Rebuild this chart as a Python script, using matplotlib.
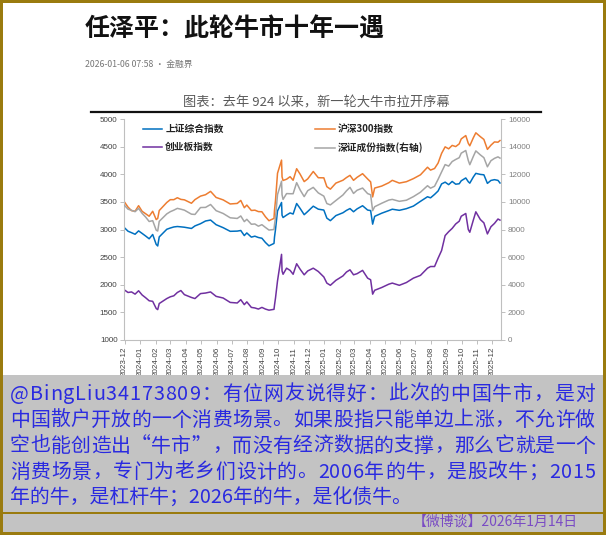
import matplotlib

matplotlib.use("Agg")
import matplotlib.dates as mdates
import matplotlib.pyplot as plt
import pandas as pd
from matplotlib.lines import Line2D
from matplotlib.patches import Rectangle

plt.rcParams["font.family"] = ["Noto Sans CJK SC", "DejaVu Sans"]

# ── Data ──────────────────────────────────────────────────────────────────────
dates = [
    "2023-12-01", "2023-12-08", "2023-12-15", "2023-12-22", "2023-12-29",
    "2024-01-05", "2024-01-12", "2024-01-19", "2024-01-26", "2024-02-02",
    "2024-02-05", "2024-02-08", "2024-02-23", "2024-03-01", "2024-03-08",
    "2024-03-15", "2024-03-22", "2024-03-29", "2024-04-12", "2024-04-19",
    "2024-04-30", "2024-05-10", "2024-05-20", "2024-05-31", "2024-06-14",
    "2024-06-28", "2024-07-12", "2024-07-19", "2024-07-26", "2024-07-31",
    "2024-08-09", "2024-08-16", "2024-08-23", "2024-08-30", "2024-09-06",
    "2024-09-13", "2024-09-23", "2024-09-24", "2024-09-26", "2024-09-30",
    "2024-10-08", "2024-10-09", "2024-10-11", "2024-10-18", "2024-10-25",
    "2024-10-31", "2024-11-07", "2024-11-14", "2024-11-22", "2024-11-29",
    "2024-12-10", "2024-12-20", "2024-12-31", "2025-01-06", "2025-01-13",
    "2025-01-24", "2025-02-07", "2025-02-14", "2025-02-21", "2025-02-28",
    "2025-03-07", "2025-03-18", "2025-03-28", "2025-04-03", "2025-04-07",
    "2025-04-11", "2025-04-25", "2025-05-09", "2025-05-16", "2025-05-30",
    "2025-06-13", "2025-06-27", "2025-07-11", "2025-07-25", "2025-07-31",
    "2025-08-08", "2025-08-15", "2025-08-22", "2025-08-29", "2025-09-05",
    "2025-09-12", "2025-09-19", "2025-09-26", "2025-09-30", "2025-10-09",
    "2025-10-14", "2025-10-17", "2025-10-24", "2025-10-29", "2025-11-07",
    "2025-11-14", "2025-11-21", "2025-11-28", "2025-12-05", "2025-12-12",
    "2025-12-16",
]

sh_comp = [
    3031, 2969, 2942, 2914, 2975, 2929, 2882, 2832, 2910, 2730,
    2702, 2866, 3004, 3027, 3046, 3054, 3048, 3041, 3019, 3065,
    3105, 3154, 3171, 3087, 3033, 2967, 2971, 2982, 2890, 2938,
    2862, 2879, 2855, 2842, 2765, 2704, 2748, 2863, 3000, 3336,
    3489, 3258, 3217, 3261, 3300, 3280, 3470, 3380, 3268, 3326,
    3422, 3368, 3352, 3206, 3160, 3252, 3303, 3346, 3379, 3321,
    3373, 3430, 3352, 3342, 3097, 3238, 3295, 3342, 3367, 3347,
    3377, 3424, 3510, 3593, 3573, 3635, 3697, 3825, 3857, 3812,
    3870, 3820, 3828, 3882, 3933, 3865, 3839, 3950, 4016, 3997,
    3990, 3835, 3888, 3902, 3889, 3842,
]

hs300 = [
    3497, 3405, 3341, 3330, 3431, 3329, 3285, 3240, 3330, 3180,
    3200, 3343, 3489, 3540, 3540, 3575, 3545, 3537, 3475, 3541,
    3604, 3630, 3690, 3580, 3536, 3462, 3472, 3526, 3394, 3442,
    3344, 3350, 3324, 3321, 3231, 3159, 3201, 3347, 3528, 4018,
    4256, 3955, 3887, 3910, 3956, 3891, 4100, 4000, 3867, 3916,
    4050, 3937, 3935, 3775, 3730, 3840, 3892, 3940, 3980, 3890,
    3944, 4010, 3915, 3862, 3590, 3750, 3786, 3846, 3890, 3840,
    3865, 3921, 3990, 4127, 4075, 4104, 4202, 4378, 4496, 4460,
    4522, 4501, 4550, 4640, 4700, 4560, 4515, 4660, 4750, 4680,
    4630, 4450, 4526, 4585, 4580, 4610,
]

chinext = [
    1905, 1860, 1870, 1830, 1891, 1815, 1765, 1710, 1700, 1570,
    1550, 1660, 1750, 1782, 1800, 1860, 1895, 1821, 1770, 1750,
    1840, 1850, 1870, 1790, 1760, 1680, 1670, 1730, 1640, 1690,
    1590, 1580, 1560, 1590, 1560, 1540, 1555, 1630, 1760, 2070,
    2550, 2250, 2190, 2300, 2260, 2190, 2380, 2280, 2180, 2250,
    2300, 2240, 2141, 2030, 1990, 2080, 2160, 2230, 2270, 2180,
    2200, 2260, 2120, 2090, 1830, 1900, 1950, 2010, 2030, 1990,
    2040, 2120, 2170, 2300, 2330, 2330, 2480, 2620, 2890, 2960,
    3020, 3100, 3150, 3240, 3290, 3000, 2950, 3170, 3320, 3180,
    3120, 2920, 3050, 3110, 3190, 3170,
]

sz_comp = [
    9745, 9470, 9390, 9290, 9525, 9170, 8900, 8580, 8640, 7950,
    7890, 8590, 9130, 9290, 9400, 9530, 9470, 9400, 9110, 9090,
    9590, 9600, 9810, 9364, 9160, 8848, 8800, 8980, 8570, 8737,
    8380, 8400, 8240, 8349, 8150, 7960, 8000, 8340, 8860, 10529,
    11495, 10520, 10180, 10600, 10590, 10590, 11390, 10860, 10380, 10810,
    11050, 10650, 10415, 9880, 9780, 10100, 10500, 10800, 11050, 10611,
    10840, 11000, 10600, 10515, 9364, 9650, 9900, 10130, 10180, 10040,
    10120, 10380, 10700, 11170, 10991, 11130, 11630, 12170, 12700, 12590,
    12920, 13070, 13200, 13527, 13720, 13000, 12690, 13290, 13690, 13400,
    13200, 12540, 12980, 13150, 13260, 13170,
]

series_names = ["上证综合指数", "沪深300指数", "创业板指数", "深证成份指数(右轴)"]
left_ticks = list(range(1000, 5001, 500))
right_ticks = list(range(0, 16001, 2000))

post_lines = [
    "@BingLiu34173809：有位网友说得好：此次的中国牛市，是对",
    "中国散户开放的一个消费场景。如果股指只能单边上涨，不允许做",
    "空也能创造出“牛市”，而没有经济数据的支撑，那么它就是一个",
    "消费场景，专门为老乡们设计的。2006年的牛，是股改牛；2015",
    "年的牛，是杠杆牛；2026年的牛，是化债牛。",
]
footer = "【微博谈】2026年1月14日"

# ── Figure ────────────────────────────────────────────────────────────────────
W, H = 606, 535
GOLD = "#9a7b0f"
GREY_BOX = "#c3c3c3"
POST_C = "#2a2ae0"
C_BLUE, C_ORANGE, C_PURPLE, C_GREY = "#0070c0", "#ed7d31", "#7030a0", "#a5a5a5"
AXIS_C = "#bfbfbf"
NUM_FONT = "Liberation Sans"


def fx(x):
    return x / W


def fy(y):
    return 1 - y / H


fig = plt.figure(figsize=(W / 100, H / 100), dpi=100, facecolor="white")
renderer = fig.canvas.get_renderer()

# article header
fig.text(fx(85), fy(29), "任泽平：此轮牛市十年一遇", fontsize=18, fontweight="bold",
         color="#111111", ha="left", va="center")
fig.text(fx(85), fy(64), "2026-01-06 07:58 · 金融界", fontsize=6.3, color="#777777",
         ha="left", va="center")

# chart title + heavy rule
fig.text(fx(316), fy(103), "图表：去年 924 以来，新一轮大牛市拉开序幕", fontsize=9.5,
         color="#595959", ha="center", va="center")
fig.add_artist(Line2D([fx(91), fx(541)], [fy(112), fy(112)], color="#111111", lw=1.6))

x = pd.to_datetime(dates)
ax = fig.add_axes([fx(124.5), fy(340), (501 - 124.5) / W, (340 - 119) / H])
ax2 = ax.twinx()

l_orange, = ax.plot(x, hs300, color=C_ORANGE, lw=1.1, label=series_names[1])
l_blue, = ax.plot(x, sh_comp, color=C_BLUE, lw=1.1, label=series_names[0])
l_purple, = ax.plot(x, chinext, color=C_PURPLE, lw=1.1, label=series_names[2])
l_grey, = ax2.plot(x, sz_comp, color=C_GREY, lw=1.1, label=series_names[3])

ax.set_xlim(pd.Timestamp("2023-12-01"), pd.Timestamp("2025-12-18"))
ax.set_ylim(1000, 5000)
ax.set_yticks(left_ticks)
ax2.set_ylim(0, 16000)
ax2.set_yticks(right_ticks)

ax.xaxis.set_major_locator(mdates.MonthLocator())
ax.xaxis.set_major_formatter(mdates.DateFormatter("%Y-%m"))

for a in (ax, ax2):
    for s in a.spines.values():
        s.set_color(AXIS_C)
        s.set_linewidth(0.8)
    a.spines["top"].set_visible(False)
ax.spines["right"].set_visible(False)
ax2.spines["left"].set_visible(False)
ax2.spines["bottom"].set_visible(False)

ax.tick_params(axis="y", length=3, width=0.7, color=AXIS_C, pad=2,
               labelsize=5.8, labelcolor="#404040")
ax.tick_params(axis="x", length=3, width=0.7, color=AXIS_C, pad=2,
               labelsize=5.8, labelcolor="#404040", labelrotation=90)
ax2.tick_params(axis="y", length=3, width=0.7, color=AXIS_C, pad=2,
                labelsize=5.8, labelcolor="#7f7f7f")
for lab in ax.get_xticklabels() + ax.get_yticklabels() + ax2.get_yticklabels():
    lab.set_fontfamily(NUM_FONT)

leg = ax2.legend(
    handles=[l_blue, l_purple, l_orange, l_grey],
    labels=[series_names[0], series_names[2], series_names[1], series_names[3]],
    ncol=2, loc="upper left", bbox_to_anchor=(fx(143), fy(124)),
    bbox_transform=fig.transFigure, frameon=False, borderpad=0, borderaxespad=0,
    handlelength=2.0, handletextpad=0.3, columnspacing=9.4, labelspacing=0.85,
    prop={"size": 7, "weight": "bold"},
)
for t in leg.get_texts():
    t.set_color("#222222")

# grey post box
fig.add_artist(Rectangle((0, fy(535)), 1, fy(375) - fy(535), transform=fig.transFigure,
                         facecolor=GREY_BOX, edgecolor="none", zorder=5))

# post text, justified like the original (last line left as is)
POST_SIZE = 14.3
LEFT, RIGHT = 10, 595
for i, line in enumerate(post_lines):
    y = fy(394 + i * 26)
    if i == len(post_lines) - 1:
        fig.text(fx(LEFT), y, line, fontsize=POST_SIZE, color=POST_C,
                 ha="left", va="center", zorder=6)
        continue
    widths = []
    for ch in line:
        tmp = fig.text(0, 0, ch, fontsize=POST_SIZE)
        widths.append(tmp.get_window_extent(renderer).width)
        tmp.remove()
    gap = (RIGHT - LEFT - sum(widths)) / (len(line) - 1)
    pos = LEFT
    for ch, w in zip(line, widths):
        fig.text(fx(pos), y, ch, fontsize=POST_SIZE, color=POST_C,
                 ha="left", va="center", zorder=6)
        pos += w + gap

fig.add_artist(Rectangle((0, fy(514)), 1, 2 / H, transform=fig.transFigure,
                         facecolor=GOLD, edgecolor="none", zorder=6))
fig.text(fx(578), fy(522), footer, fontsize=10, color="#7a4cc4", ha="right",
         va="center", zorder=6)

# gold frame
for rect in [(0, 0, 1, 3 / H), (0, 1 - 3 / H, 1, 3 / H), (0, 0, 3 / W, 1), (1 - 3 / W, 0, 3 / W, 1)]:
    fig.add_artist(Rectangle(rect[:2], rect[2], rect[3], transform=fig.transFigure,
                             facecolor=GOLD, edgecolor="none", zorder=7))

fig.savefig("out.png", dpi=100, facecolor="white")
plt.close(fig)
